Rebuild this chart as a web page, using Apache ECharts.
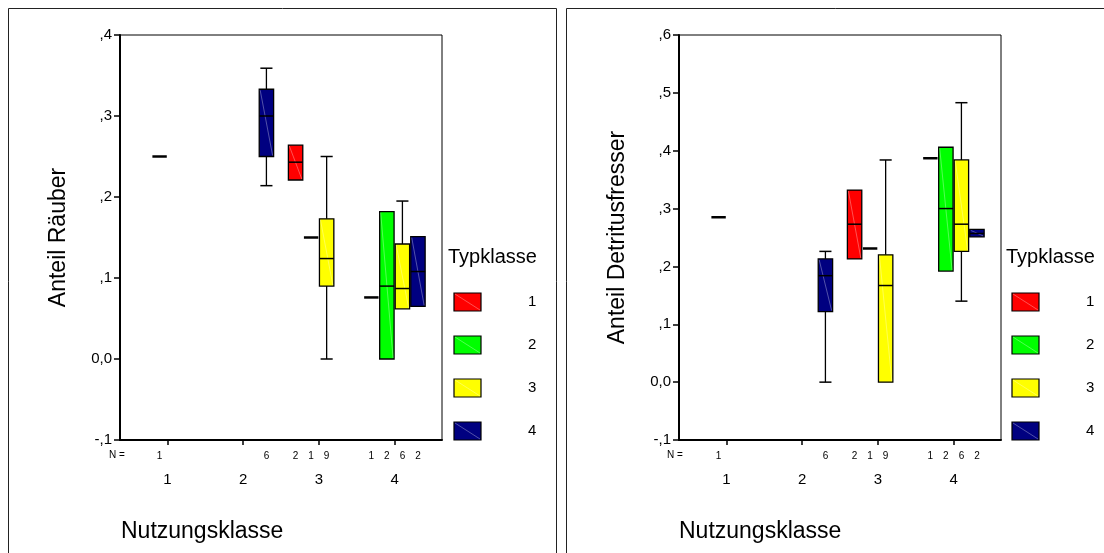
<!DOCTYPE html>
<html>
<head>
<meta charset="utf-8">
<script src="https://cdn.jsdelivr.net/npm/echarts@6/dist/echarts.min.js"></script>
<style>
  html, body { margin: 0; padding: 0; background: #fff; }
  #chart { width: 1104px; height: 553px; }
</style>
</head>
<body>
<div id="chart"></div>
<script>
// Nutzungsklasse (x) und Typklasse (Gruppierung)
var nutzungsklassen = [1, 2, 3, 4];
var typklassen = ['1', '2', '3', '4'];
var typFarben = ['#ff0000', '#00ff00', '#ffff00', '#000080'];

// Linkes Diagramm: Anteil Räuber
// je Box: [Nutzungsklasse, Typklasse]
var raeuberGruppen = [[1, 2], [2, 4], [3, 1], [3, 2], [3, 3], [4, 1], [4, 2], [4, 3], [4, 4]];
var raeuberN = [1, 6, 2, 1, 9, 1, 2, 6, 2];
// [min, q1, median, q3, max]
var raeuberWerte = [
  [0.250, 0.250, 0.250, 0.250, 0.250],
  [0.214, 0.250, 0.300, 0.333, 0.359],
  [0.221, 0.221, 0.243, 0.264, 0.264],
  [0.150, 0.150, 0.150, 0.150, 0.150],
  [0.000, 0.090, 0.124, 0.173, 0.250],
  [0.076, 0.076, 0.076, 0.076, 0.076],
  [0.000, 0.000, 0.090, 0.182, 0.182],
  [0.062, 0.062, 0.087, 0.142, 0.195],
  [0.065, 0.065, 0.108, 0.151, 0.151]
];

// Rechtes Diagramm: Anteil Detritusfresser
var detritusGruppen = [[1, 2], [2, 4], [3, 1], [3, 2], [3, 3], [4, 1], [4, 2], [4, 3], [4, 4]];
var detritusN = [1, 6, 2, 1, 9, 1, 2, 6, 2];
var detritusWerte = [
  [0.285, 0.285, 0.285, 0.285, 0.285],
  [0.000, 0.122, 0.184, 0.213, 0.226],
  [0.213, 0.213, 0.273, 0.332, 0.332],
  [0.231, 0.231, 0.231, 0.231, 0.231],
  [0.000, 0.000, 0.167, 0.220, 0.384],
  [0.387, 0.387, 0.387, 0.387, 0.387],
  [0.192, 0.192, 0.300, 0.406, 0.406],
  [0.140, 0.226, 0.273, 0.384, 0.483],
  [0.251, 0.251, 0.257, 0.264, 0.264]
];

var FONT = 'Arial, "Liberation Sans", sans-serif';
var SLOT = 0.205;      // Abstand der Typklassen innerhalb einer Nutzungsklasse
var HALB = 0.095;      // halbe Boxbreite (Achseneinheiten)

function baueDaten(gruppen, nListe, werte) {
  return gruppen.map(function (g, i) {
    var x = g[0] + (g[1] - 2.5) * SLOT;
    return [x].concat(werte[i]).concat([g[1] - 1, nListe[i]]);
  });
}

function renderBox(params, api) {
  var x = api.value(0);
  var mn = api.value(1), q1 = api.value(2), md = api.value(3), q3 = api.value(4), mx = api.value(5);
  var typ = api.value(6), n = api.value(7);
  var left = api.coord([x - HALB, md])[0];
  var right = api.coord([x + HALB, md])[0];
  var cx = api.coord([x, md])[0];
  var yMd = api.coord([x, md])[1];
  var cs = params.coordSys;
  var kinder = [];

  // N-Beschriftung unter der Achse
  kinder.push({
    type: 'text',
    style: {
      text: String(n), x: cx, y: cs.y + cs.height + 16,
      align: 'center', verticalAlign: 'middle',
      font: '10px ' + FONT, fill: '#000'
    }
  });

  if (n === 1) {
    kinder.push({
      type: 'line',
      shape: { x1: left, y1: yMd, x2: right, y2: yMd },
      style: { stroke: '#000', lineWidth: 2.5 }
    });
    return { type: 'group', children: kinder };
  }

  var yQ1 = api.coord([x, q1])[1];
  var yQ3 = api.coord([x, q3])[1];
  var yMn = api.coord([x, mn])[1];
  var yMx = api.coord([x, mx])[1];
  var capL = cx - (right - left) * 0.42;
  var capR = cx + (right - left) * 0.42;

  if (mx > q3) {
    kinder.push({ type: 'line', shape: { x1: cx, y1: yQ3, x2: cx, y2: yMx }, style: { stroke: '#000', lineWidth: 1.3 } });
    kinder.push({ type: 'line', shape: { x1: capL, y1: yMx, x2: capR, y2: yMx }, style: { stroke: '#000', lineWidth: 1.5 } });
  }
  if (mn < q1) {
    kinder.push({ type: 'line', shape: { x1: cx, y1: yQ1, x2: cx, y2: yMn }, style: { stroke: '#000', lineWidth: 1.3 } });
    kinder.push({ type: 'line', shape: { x1: capL, y1: yMn, x2: capR, y2: yMn }, style: { stroke: '#000', lineWidth: 1.5 } });
  }
  kinder.push({
    type: 'rect',
    shape: { x: left, y: yQ3, width: right - left, height: yQ1 - yQ3 },
    style: { fill: typFarben[typ], stroke: '#000', lineWidth: 1.3 }
  });
  kinder.push({
    type: 'line',
    shape: { x1: left + 1, y1: yQ3 + 1, x2: right - 1, y2: yQ1 - 1 },
    style: { stroke: 'rgba(255,255,255,0.4)', lineWidth: 0.8 }
  });
  kinder.push({
    type: 'line',
    shape: { x1: left, y1: yMd, x2: right, y2: yMd },
    style: { stroke: '#000', lineWidth: 1.5 }
  });
  return { type: 'group', children: kinder };
}

function yFormat(v) {
  var r = Math.round(v * 10);
  if (r === 0) return '0,0';
  return (r < 0 ? '-' : '') + ',' + Math.abs(r);
}

function xAchse(gi) {
  return {
    gridIndex: gi, type: 'value', min: 0.375, max: 4.625,
    axisLine: { show: true, onZero: false, lineStyle: { color: '#000', width: 2 } },
    axisTick: { show: true, customValues: nutzungsklassen, length: 5, lineStyle: { color: '#000', width: 1.5 } },
    axisLabel: { customValues: nutzungsklassen, margin: 32, fontSize: 15, color: '#000', fontFamily: FONT },
    splitLine: { show: false }
  };
}

function yAchse(gi, max, name) {
  return {
    gridIndex: gi, type: 'value', min: -0.1, max: max, interval: 0.1,
    name: name, nameLocation: 'middle', nameGap: 50,
    nameTextStyle: { fontSize: 23, color: '#000', fontFamily: FONT },
    axisLine: { show: true, lineStyle: { color: '#000', width: 2 } },
    axisTick: { show: true, length: 6, lineStyle: { color: '#000', width: 1.5 } },
    axisLabel: { formatter: yFormat, margin: 8, fontSize: 15, color: '#000', fontFamily: FONT },
    splitLine: { show: false }
  };
}

// Legende und Rahmen je Panel
function panelGrafik(dx) {
  var g = [
    { type: 'rect', shape: { x: dx + 8.5, y: 8.5, width: 548, height: 600 }, style: { fill: 'none', stroke: '#222', lineWidth: 1 } },
    { type: 'text', left: dx + 448, top: 247, style: { text: 'Typklasse', font: '20px ' + FONT, fill: '#000' } },
    { type: 'text', left: dx + 121, top: 520, style: { text: 'Nutzungsklasse', font: '23px ' + FONT, fill: '#000' } },
    { type: 'text', left: dx + 109, top: 450, style: { text: 'N =', font: '10px ' + FONT, fill: '#000' } }
  ];
  typklassen.forEach(function (t, i) {
    var y = 293 + i * 43;
    g.push({ type: 'rect', shape: { x: dx + 454, y: y, width: 27, height: 18 }, style: { fill: typFarben[i], stroke: '#000', lineWidth: 1.2 } });
    g.push({ type: 'line', shape: { x1: dx + 455, y1: y + 1, x2: dx + 480, y2: y + 17 }, style: { stroke: 'rgba(255,255,255,0.4)', lineWidth: 0.8 } });
    g.push({ type: 'text', left: dx + 528, top: y + 1, style: { text: t, font: '15px ' + FONT, fill: '#000' } });
  });
  return g;
}

var chart = echarts.init(document.getElementById('chart'));

var option = {
  animation: false,
  backgroundColor: '#fff',
  grid: [
    { left: 120, top: 35, width: 322, height: 405, show: true, borderColor: '#000', borderWidth: 1 },
    { left: 679, top: 35, width: 322, height: 405, show: true, borderColor: '#000', borderWidth: 1 }
  ],
  xAxis: [xAchse(0), xAchse(1)],
  yAxis: [yAchse(0, 0.4, 'Anteil Räuber'), yAchse(1, 0.6, 'Anteil Detritusfresser')],
  graphic: panelGrafik(0).concat(panelGrafik(558)),
  series: [
    {
      type: 'custom', xAxisIndex: 0, yAxisIndex: 0,
      renderItem: renderBox,
      encode: { x: 0, y: [1, 2, 3, 4, 5] },
      data: baueDaten(raeuberGruppen, raeuberN, raeuberWerte),
      clip: false
    },
    {
      type: 'custom', xAxisIndex: 1, yAxisIndex: 1,
      renderItem: renderBox,
      encode: { x: 0, y: [1, 2, 3, 4, 5] },
      data: baueDaten(detritusGruppen, detritusN, detritusWerte),
      clip: false
    }
  ]
};

chart.setOption(option);
</script>
</body>
</html>
